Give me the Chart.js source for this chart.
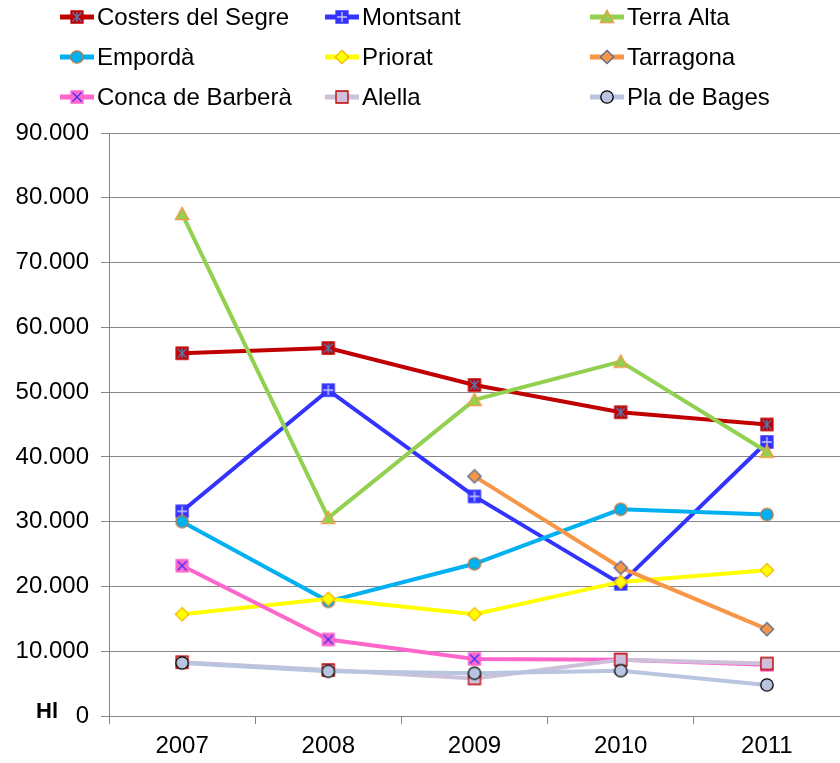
<!DOCTYPE html>
<html>
<head>
<meta charset="utf-8">
<script src="https://cdn.jsdelivr.net/npm/chart.js@4.4.0/dist/chart.umd.min.js"></script>
<style>
  html, body { margin: 0; padding: 0; background: #fff; }
  #wrap { width: 840px; height: 763px; }
</style>
</head>
<body>
<div id="wrap"><canvas id="c" width="840" height="763"></canvas></div>
<script>
// data (Hl per year)
const years = ['2007', '2008', '2009', '2010', '2011'];
const costers = [56000, 56800, 51100, 46900, 45000];
const montsant = [31600, 50300, 33900, 20400, 42300];
const terraAlta = [77500, 30600, 48800, 54700, 40800];
const emporda = [30000, 17700, 23500, 31900, 31100];
const priorat = [15700, 18100, 15700, 20700, 22500];
const tarragona = [null, null, 37000, 22900, 13400];
const conca = [23200, 11800, 8800, 8700, 7900];
const alella = [8300, 7100, 5800, 8700, 8100];
const plaBages = [8200, 6900, 6600, 7000, 4800];
const yTickLabels = ['0', '10.000', '20.000', '30.000', '40.000', '50.000', '60.000', '70.000', '80.000', '90.000'];

const FONT = '"Liberation Sans", Arial, sans-serif';

// little canvases used as point markers (excel-ish)
function marker(kind, fill, stroke, mark, markColor) {
  const s = 16;
  const c = document.createElement('canvas');
  c.width = s; c.height = s;
  const g = c.getContext('2d');
  g.fillStyle = fill;
  g.strokeStyle = stroke;
  g.lineWidth = 1.3;
  g.beginPath();
  if (kind === 'square') g.rect(2, 2, 12, 12);
  else if (kind === 'circle') g.arc(8, 8, 6.2, 0, Math.PI * 2);
  else if (kind === 'diamond') { g.moveTo(8, 1.3); g.lineTo(14.7, 8); g.lineTo(8, 14.7); g.lineTo(1.3, 8); g.closePath(); }
  else if (kind === 'triangle') { g.moveTo(8, 1.3); g.lineTo(14.7, 13.7); g.lineTo(1.3, 13.7); g.closePath(); }
  g.fill();
  g.stroke();
  if (mark) {
    g.strokeStyle = markColor;
    g.lineWidth = 1.3;
    g.beginPath();
    if (mark === 'x' || mark === 'star') {
      g.moveTo(3.5, 3.5); g.lineTo(12.5, 12.5);
      g.moveTo(12.5, 3.5); g.lineTo(3.5, 12.5);
    }
    if (mark === 'plus' || mark === 'star') {
      g.moveTo(8, 3); g.lineTo(8, 13);
    }
    if (mark === 'plus') {
      g.moveTo(3, 8); g.lineTo(13, 8);
    }
    g.stroke();
  }
  return c;
}

function series(label, data, color, pt, i) {
  return {
    label: label,
    data: data,
    borderColor: color,
    backgroundColor: color,
    borderWidth: 4,
    tension: 0,
    pointStyle: pt,
    pointRadius: 7,
    spanGaps: false,
    order: 20 - i
  };
}

const datasets = [
  series('Costers del Segre', costers, '#C00000', marker('square', '#C00000', '#C00000', 'star', '#4F81BD'), 0),
  series('Montsant', montsant, '#3333FF', marker('square', '#3333FF', '#3333FF', 'plus', '#C8C8FF'), 1),
  series('Terra Alta', terraAlta, '#92D050', marker('triangle', '#92D050', '#F79646'), 2),
  series('Empordà', emporda, '#00B0F0', marker('circle', '#00B0F0', '#C9743A'), 3),
  series('Priorat', priorat, '#FFFF00', marker('diamond', '#FFFF00', '#F5B800'), 4),
  series('Tarragona', tarragona, '#F79646', marker('diamond', '#F79646', '#4F6D9A'), 5),
  series('Conca de Barberà', conca, '#FF66CC', marker('square', '#FF66CC', '#FF66CC', 'x', '#3333FF'), 6),
  series('Alella', alella, '#CCC0DA', marker('square', '#CCC0DA', '#C00000'), 7),
  series('Pla de Bages', plaBages, '#B9C4DE', marker('circle', '#B9C4DE', '#000000'), 8)
];

// legend in a 3 column grid + the "Hl" unit label
const gridLegend = {
  id: 'gridLegend',
  afterDraw(chart) {
    const ctx = chart.ctx;
    const cols = [60, 325, 590];
    chart.data.datasets.forEach((ds, i) => {
      const x = cols[i % 3];
      const y = 17 + Math.floor(i / 3) * 40;
      ctx.save();
      ctx.strokeStyle = ds.borderColor;
      ctx.lineWidth = 5;
      ctx.beginPath();
      ctx.moveTo(x, y);
      ctx.lineTo(x + 34, y);
      ctx.stroke();
      ctx.drawImage(ds.pointStyle, x + 17 - 8, y - 8);
      ctx.fillStyle = '#000';
      ctx.font = '24px ' + FONT;
      ctx.textBaseline = 'middle';
      ctx.fillText(ds.label, x + 37, y + 1);
      ctx.restore();
    });
    ctx.save();
    ctx.fillStyle = '#000';
    ctx.font = 'bold 22px ' + FONT;
    ctx.textBaseline = 'middle';
    ctx.fillText('Hl', 36, 712);
    ctx.restore();
  }
};

new Chart(document.getElementById('c'), {
  type: 'line',
  data: { labels: years, datasets: datasets },
  options: {
    responsive: false,
    animation: false,
    layout: { autoPadding: false, padding: { top: 133, right: 0, bottom: 0, left: 0 } },
    plugins: { legend: { display: false }, tooltip: { enabled: false } },
    scales: {
      x: {
        offset: true,
        grid: { display: true, offset: true, drawOnChartArea: false, drawTicks: true, tickLength: 8, color: '#868686' },
        border: { color: '#868686', width: 1 },
        ticks: { color: '#000', font: { family: FONT, size: 24 }, padding: 8, maxRotation: 0 },
        afterFit(scale) {
          scale.height = 47;
          scale.paddingLeft = 0;
          scale.paddingRight = 0;
        }
      },
      y: {
        min: 0,
        max: 90000,
        ticks: {
          stepSize: 10000,
          color: '#000',
          font: { family: FONT, size: 24 },
          padding: 12,
          callback: (v, i) => yTickLabels[i]
        },
        grid: { color: '#868686', lineWidth: 1, tickLength: 8 },
        border: { color: '#868686', width: 1 },
        afterFit(scale) { scale.width = 109; }
      }
    }
  },
  plugins: [gridLegend]
});
</script>
</body>
</html>
